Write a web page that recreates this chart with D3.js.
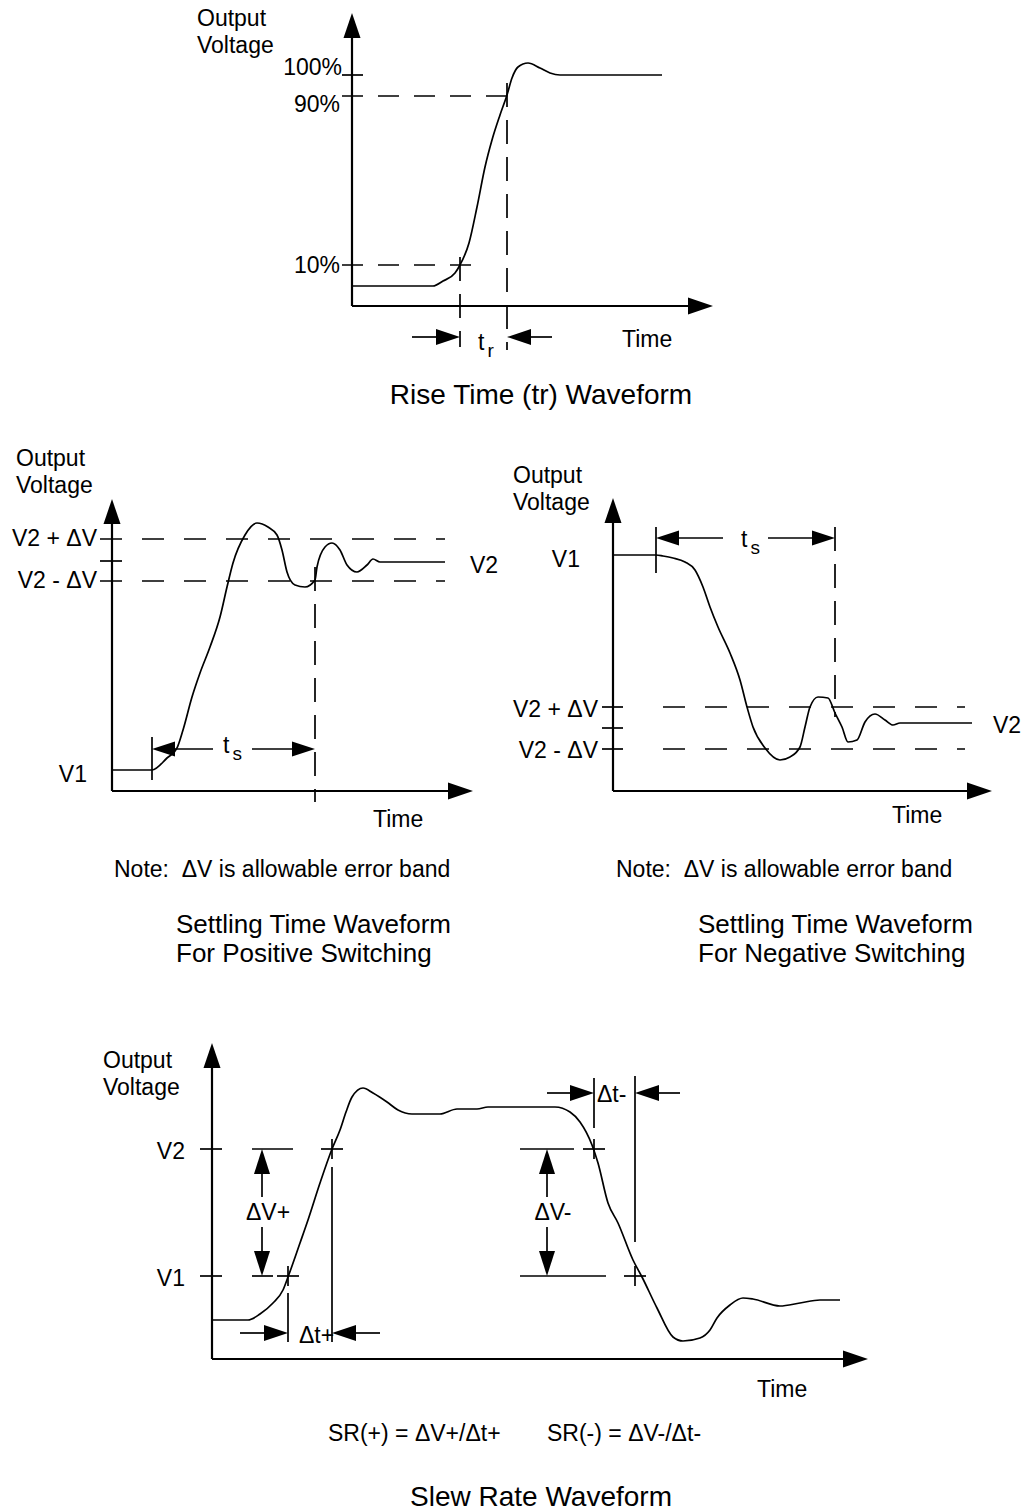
<!DOCTYPE html>
<html>

<head>
    <style>
        body { margin: 0; background: #fff; }
        text { font-family: "Liberation Sans", Arial, sans-serif; fill: #000; font-size: 23px; }
        .axis { stroke: #000; stroke-width: 2.2; fill: none; }
        .guide { stroke: #000; stroke-width: 1.7; fill: none; }
        .wave { stroke: #000; stroke-width: 1.7; fill: none; }
        .dash1 { stroke-dasharray: 21, 15; }
        .dash2 { stroke-dasharray: 22, 20; }
        .vdash { stroke-dasharray: 24, 13; }
        .caption { font-size: 28px; }
        .caption2 { font-size: 26px; }
        .note { white-space: pre; }
    </style>
</head>

<body>
    <svg id="chart" width="1026" height="1511"></svg>
</body>
<script src="https://d3js.org/d3.v7.min.js"></script>

<script>
    // waveforms: [time, voltage] in drawing units above each panel's origin
    let riseCurve = [[0, 20], [81, 20], [91, 25], [103, 33], [108, 41], [117, 63], [125, 99], [133, 139],
        [140, 166], [148, 191], [155, 211], [160, 228], [166, 239], [176, 243], [188, 238], [198, 233],
        [208, 231], [310, 231]];
    let riseLevels = [231, 210, 41];
    let riseLevelLabels = ["100%", "90%", "10%"];
    let riseMarks = [108, 155];

    let posCurve = [[0, 21], [40, 21], [55, 33], [65, 43], [71, 61], [80, 94], [88, 118], [98, 144],
        [108, 174], [115, 204], [121, 228], [133, 256], [145, 268], [156, 264], [165, 256], [170, 241],
        [175, 219], [183, 206], [193, 204], [203, 211], [205, 224], [213, 244], [220, 248], [228, 241],
        [235, 226], [245, 219], [255, 226], [261, 232], [268, 229], [333, 229]];
    let posLevels = [252, 230, 210];
    let posLevelLabels = ["V2 + \u0394V", "", "V2 - \u0394V"];
    let posStart = 40, posSettle = 203;

    let negCurve = [[0, 236], [43, 236], [50, 235], [60, 233], [72, 229], [82, 221], [90, 204], [97, 184],
        [105, 164], [117, 138], [127, 111], [134, 84], [140, 64], [152, 43], [167, 31], [177, 34],
        [187, 44], [192, 64], [197, 84], [205, 94], [215, 93], [222, 78], [229, 64], [235, 49],
        [244, 51], [252, 69], [262, 77], [272, 71], [280, 66], [287, 68], [359, 68]];
    let negLevels = [84, 63, 42];
    let negLevelLabels = ["V2 + \u0394V", "", "V2 - \u0394V"];
    let negStart = 43, negSettle = 222;

    let slewCurve = [[0, 39], [36, 39], [48, 45], [61, 56], [71, 69], [76, 82], [88, 116], [96, 139],
        [108, 176], [120, 210], [128, 229], [134, 247], [140, 262], [151, 271], [161, 266], [175, 257],
        [186, 249], [200, 245], [228, 245], [245, 250], [265, 250], [276, 252], [343, 252], [358, 247],
        [368, 237], [380, 214], [386, 196], [396, 156], [406, 136], [421, 99], [430, 82], [445, 51],
        [461, 22], [471, 18], [488, 21], [498, 29], [505, 41], [518, 54], [531, 61], [541, 60],
        [568, 53], [588, 56], [608, 59], [628, 59]];
    let slewLevels = [210, 83];
    let slewLevelLabels = ["V2", "V1"];
    let slewRiseMarks = [76, 120];
    let slewFallMarks = [382, 423];

    let svg = d3.select("#chart");

    function makePanel(ox, oy, w, h) {
        let x = d3.scaleLinear().domain([0, w]).range([ox, ox + w]);
        let y = d3.scaleLinear().domain([0, h]).range([oy, oy - h]);
        return { x: x, y: y, w: w, h: h, g: svg.append("g") };
    }

    function seg(p, t1, v1, t2, v2, cls) {
        p.g.append("line")
            .attr("class", cls || "guide")
            .attr("x1", p.x(t1)).attr("y1", p.y(v1))
            .attr("x2", p.x(t2)).attr("y2", p.y(v2));
    }

    // filled arrow head, tip at (t, v)
    function head(p, t, v, dir, len, half) {
        len = len || 24; half = half || 8;
        let tx = p.x(t), ty = p.y(v), pts;
        if (dir == "right") pts = [[tx, ty], [tx - len, ty - half], [tx - len, ty + half]];
        if (dir == "left") pts = [[tx, ty], [tx + len, ty - half], [tx + len, ty + half]];
        if (dir == "up") pts = [[tx, ty], [tx - half, ty + len], [tx + half, ty + len]];
        if (dir == "down") pts = [[tx, ty], [tx - half, ty - len], [tx + half, ty - len]];
        p.g.append("polygon").attr("points", pts.map((d) => d.join(",")).join(" ")).attr("fill", "black");
    }

    function axes(p) {
        seg(p, 0, 0, 0, p.h - 20, "axis");
        head(p, 0, p.h, "up", 25, 8.5);
        seg(p, 0, 0, p.w - 20, 0, "axis");
        head(p, p.w, 0, "right", 25, 8.5);
    }

    function wave(p, data) {
        let line = d3.line()
            .x((d) => p.x(d[0]))
            .y((d) => p.y(d[1]))
            .curve(d3.curveMonotoneX);
        p.g.append("path").datum(data).attr("class", "wave").attr("d", line);
    }

    function label(p, t, v, txt, anchor, cls) {
        return p.g.append("text")
            .attr("x", p.x(t)).attr("y", p.y(v))
            .attr("text-anchor", anchor || "start")
            .attr("class", cls || null)
            .text(txt);
    }

    function yLabel(p, t, v) {
        label(p, t, v, "Output");
        label(p, t, v - 27, "Voltage");
    }

    // t with subscript
    function subLabel(p, t, v, main, sub) {
        let txt = label(p, t, v, main);
        txt.append("tspan").attr("dx", 3).attr("dy", 7).style("font-size", "19px").text(sub);
    }

    function cross(p, t, v) {
        seg(p, t - 11, v, t + 11, v);
        seg(p, t, v - 10, t, v + 10);
    }

    // ---------- Rise time ----------
    let p1 = makePanel(352, 306, 361, 293);
    axes(p1);
    wave(p1, riseCurve);
    seg(p1, -10, riseLevels[0], 11, riseLevels[0]);
    seg(p1, -10, riseLevels[1], 162, riseLevels[1], "guide dash1");
    seg(p1, -10, riseLevels[2], 122, riseLevels[2], "guide dash1");
    seg(p1, riseMarks[0], riseLevels[2] + 8, riseMarks[0], -41, "guide vdash");
    seg(p1, riseMarks[1], riseLevels[0] - 8, riseMarks[1], -44, "guide vdash");
    label(p1, -10, riseLevels[0], riseLevelLabels[0], "end");
    label(p1, -12, riseLevels[1] - 16, riseLevelLabels[1], "end");
    label(p1, -12, riseLevels[2] - 8, riseLevelLabels[2], "end");
    seg(p1, riseMarks[0] - 48, -31, riseMarks[0] - 20, -31);
    head(p1, riseMarks[0], -31, "right");
    head(p1, riseMarks[1], -31, "left");
    seg(p1, riseMarks[1] + 20, -31, riseMarks[1] + 45, -31);
    subLabel(p1, riseMarks[0] + 18, -44, "t", "r");
    label(p1, 270, -41, "Time");
    yLabel(p1, -155, 280);
    label(p1, 189, -98, "Rise Time (tr) Waveform", "middle", "caption");

    // ---------- Settling, positive ----------
    let p2 = makePanel(112, 791, 361, 292);
    axes(p2);
    wave(p2, posCurve);
    seg(p2, -12, posLevels[1], 10, posLevels[1]);
    seg(p2, -12, posLevels[0], 333, posLevels[0], "guide dash2");
    seg(p2, -12, posLevels[2], 333, posLevels[2], "guide dash2");
    label(p2, -15, posLevels[0] - 7, posLevelLabels[0], "end");
    label(p2, -15, posLevels[2] - 7, posLevelLabels[2], "end");
    label(p2, 358, posLevels[1] - 12, "V2");
    label(p2, -25, posCurve[0][1] - 12, "V1", "end");
    seg(p2, posStart, 54, posStart, 11);
    head(p2, posStart, 42, "left", 23, 7.5);
    seg(p2, posStart + 20, 42, posStart + 61, 42);
    subLabel(p2, posStart + 71, 38, "t", "s");
    seg(p2, posSettle - 63, 42, posSettle - 20, 42);
    head(p2, posSettle, 42, "right", 23, 7.5);
    seg(p2, posSettle, 224, posSettle, -11, "guide vdash");
    label(p2, 261, -36, "Time");
    yLabel(p2, -96, 325);
    label(p2, 2, -86, "Note:  \u0394V is allowable error band", "start", "note");
    label(p2, 64, -142, "Settling Time Waveform", "start", "caption2");
    label(p2, 64, -171, "For Positive Switching", "start", "caption2");

    // ---------- Settling, negative ----------
    let p3 = makePanel(613, 791, 379, 293);
    axes(p3);
    wave(p3, negCurve);
    negLevels.forEach((lv) => seg(p3, -11, lv, 10, lv));
    seg(p3, 50, negLevels[0], 352, negLevels[0], "guide dash2");
    seg(p3, 50, negLevels[2], 352, negLevels[2], "guide dash2");
    label(p3, -15, negLevels[0] - 10, negLevelLabels[0], "end");
    label(p3, -15, negLevels[2] - 9, negLevelLabels[2], "end");
    label(p3, 380, negCurve[negCurve.length - 1][1] - 10, "V2");
    label(p3, -33, negCurve[0][1] - 12, "V1", "end");
    seg(p3, negStart, 264, negStart, 218);
    head(p3, negStart, 253, "left", 23, 7.5);
    seg(p3, negStart + 20, 253, negStart + 67, 253);
    subLabel(p3, negStart + 85, 244, "t", "s");
    seg(p3, negSettle - 67, 253, negSettle - 20, 253);
    head(p3, negSettle, 253, "right", 23, 7.5);
    seg(p3, negSettle, 264, negSettle, 74, "guide vdash");
    label(p3, 279, -32, "Time");
    yLabel(p3, -100, 308);
    label(p3, 3, -86, "Note:  \u0394V is allowable error band", "start", "note");
    label(p3, 85, -142, "Settling Time Waveform", "start", "caption2");
    label(p3, 85, -171, "For Negative Switching", "start", "caption2");

    // ---------- Slew rate ----------
    let p4 = makePanel(212, 1359, 656, 316);
    axes(p4);
    wave(p4, slewCurve);
    slewLevels.forEach((lv, i) => {
        seg(p4, -12, lv, 10, lv);
        label(p4, -27, lv - 10, slewLevelLabels[i], "end");
    });
    seg(p4, 40, slewLevels[0], 81, slewLevels[0]);
    seg(p4, 40, slewLevels[1], 61, slewLevels[1]);
    seg(p4, 308, slewLevels[0], 362, slewLevels[0]);
    seg(p4, 308, slewLevels[1], 394, slewLevels[1]);
    cross(p4, slewRiseMarks[1], slewLevels[0]);
    cross(p4, slewRiseMarks[0], slewLevels[1]);
    cross(p4, slewFallMarks[0], slewLevels[0]);
    cross(p4, slewFallMarks[1], slewLevels[1]);
    seg(p4, slewRiseMarks[0], 66, slewRiseMarks[0], 17);
    seg(p4, slewRiseMarks[1], 192, slewRiseMarks[1], 17);
    seg(p4, slewFallMarks[0], 281, slewFallMarks[0], 231);
    seg(p4, slewFallMarks[1], 283, slewFallMarks[1], 117);

    // delta t arrows
    seg(p4, slewRiseMarks[0] - 48, 26, slewRiseMarks[0] - 20, 26);
    head(p4, slewRiseMarks[0], 26, "right");
    head(p4, slewRiseMarks[1], 26, "left");
    seg(p4, slewRiseMarks[1] + 20, 26, slewRiseMarks[1] + 48, 26);
    label(p4, slewRiseMarks[0] + 11, 16, "\u0394t+");
    seg(p4, slewFallMarks[0] - 47, 266, slewFallMarks[0] - 20, 266);
    head(p4, slewFallMarks[0], 266, "right");
    head(p4, slewFallMarks[1], 266, "left");
    seg(p4, slewFallMarks[1] + 20, 266, slewFallMarks[1] + 45, 266);
    label(p4, slewFallMarks[0] + 3, 257, "\u0394t-");

    // delta V arrows
    [[50, "\u0394V+", 56], [335, "\u0394V-", 341]].forEach((d) => {
        head(p4, d[0], slewLevels[0], "up", 25, 8);
        seg(p4, d[0], slewLevels[0] - 22, d[0], 162);
        label(p4, d[2], 139, d[1], "middle");
        seg(p4, d[0], 132, d[0], slewLevels[1] + 22);
        head(p4, d[0], slewLevels[1], "down", 25, 8);
    });
    label(p4, 545, -38, "Time");
    yLabel(p4, -109, 291);
    label(p4, 116, -82, "SR(+) = \u0394V+/\u0394t+");
    label(p4, 335, -82, "SR(-) = \u0394V-/\u0394t-");
    label(p4, 329, -147, "Slew Rate Waveform", "middle", "caption");
</script>

</html>
